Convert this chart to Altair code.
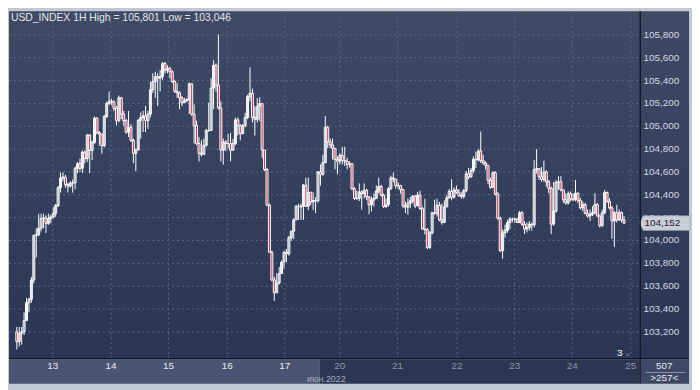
import altair as alt
import numpy as np
import pandas as pd

# ---------------- data ----------------
first_open = 103.200
closes = [
    103.115, 103.186, 103.200, 103.299, 103.455, 103.484, 103.654, 104.045, 104.051, 104.107,
    104.192, 104.198, 104.150, 104.192, 104.207, 104.235, 104.306, 104.462, 104.547, 104.555,
    104.490, 104.476, 104.504, 104.504, 104.632, 104.674, 104.632, 104.774, 104.717, 104.924,
    104.788, 104.859, 105.071, 104.944, 104.930, 104.830, 105.085, 105.199, 105.219, 105.213,
    105.156, 105.049, 105.249, 105.106, 105.049, 104.949, 104.991, 104.877, 104.763, 104.791,
    105.049, 105.077, 105.091, 105.049, 105.106, 105.320, 105.391, 105.434, 105.420, 105.434,
    105.549, 105.491, 105.506, 105.477, 105.391, 105.306, 105.291, 105.249, 105.206, 105.220,
    105.234, 105.371, 105.106, 105.006, 104.849, 104.763, 104.754, 104.834, 104.963, 104.963,
    105.334, 105.534, 105.360, 105.161, 104.791, 104.863, 104.848, 104.848, 104.790, 104.848,
    105.056, 105.005, 104.934, 105.005, 105.076, 105.260, 105.289, 105.076, 105.061, 105.175,
    105.198, 104.792, 104.621, 104.309, 103.897, 103.655, 103.542, 103.627, 103.710, 103.811,
    103.897, 103.883, 104.025, 104.082, 104.180, 104.300, 104.295, 104.300, 104.485, 104.300,
    104.422, 104.337, 104.350, 104.348, 104.600, 104.580, 104.680, 104.990, 104.864, 104.836,
    104.807, 104.708, 104.694, 104.745, 104.700, 104.694, 104.666, 104.672, 104.453, 104.368,
    104.368, 104.425, 104.411, 104.440, 104.382, 104.312, 104.354, 104.368, 104.433, 104.473,
    104.397, 104.297, 104.312, 104.453, 104.547, 104.538, 104.480, 104.480, 104.445, 104.303,
    104.292, 104.326, 104.348, 104.388, 104.303, 104.397, 104.280, 104.100, 104.095, 103.939,
    104.067, 104.243, 104.238, 104.309, 104.180, 104.158, 104.294, 104.374, 104.430, 104.380,
    104.442, 104.422, 104.394, 104.386, 104.436, 104.584, 104.556, 104.612, 104.712, 104.706,
    104.783, 104.698, 104.678, 104.658, 104.527, 104.465, 104.593, 104.408, 104.195, 103.911,
    104.067, 104.090, 104.158, 104.186, 104.186, 104.186, 104.158, 104.243, 104.143, 104.100,
    104.114, 104.143, 104.136, 104.620, 104.629, 104.557, 104.534, 104.600, 104.514, 104.457,
    104.143, 104.257, 104.506, 104.514, 104.443, 104.357, 104.329, 104.409, 104.363, 104.357,
    104.414, 104.351, 104.286, 104.314, 104.237, 104.214, 104.229, 104.243, 104.314, 104.214,
    104.129, 104.243, 104.420, 104.343, 104.286, 104.171, 104.243, 104.180, 104.243, 104.180,
    104.152,
]
highs = [
    103.243, 103.243, 103.243, 103.370, 103.498, 103.498, 103.682, 104.051, 104.107, 104.235,
    104.235, 104.235, 104.221, 104.235, 104.226, 104.292, 104.320, 104.476, 104.595, 104.595,
    104.575, 104.504, 104.518, 104.533, 104.646, 104.688, 104.717, 104.788, 104.788, 104.930,
    104.930, 104.873, 105.085, 105.077, 104.958, 104.935, 105.100, 105.213, 105.304, 105.241,
    105.227, 105.177, 105.269, 105.257, 105.134, 105.063, 105.134, 105.020, 104.891, 104.806,
    105.063, 105.120, 105.134, 105.177, 105.134, 105.391, 105.463, 105.477, 105.463, 105.491,
    105.563, 105.563, 105.534, 105.520, 105.491, 105.406, 105.377, 105.306, 105.263, 105.249,
    105.249, 105.383, 105.377, 105.191, 105.049, 104.906, 104.877, 104.891, 104.977, 105.206,
    105.420, 105.577, 105.550, 105.801, 105.218, 104.891, 104.877, 104.934, 104.941, 104.891,
    105.076, 105.076, 105.019, 105.019, 105.118, 105.275, 105.516, 105.330, 105.175, 105.246,
    105.254, 105.198, 104.792, 104.635, 104.323, 103.911, 103.683, 103.712, 103.768, 103.825,
    103.911, 103.925, 104.040, 104.082, 104.194, 104.309, 104.323, 104.323, 104.494, 104.550,
    104.550, 104.422, 104.422, 104.380, 104.607, 104.666, 104.750, 105.090, 105.005, 104.892,
    104.892, 104.807, 104.737, 104.765, 104.820, 104.820, 104.723, 104.694, 104.672, 104.467,
    104.433, 104.500, 104.439, 104.500, 104.453, 104.382, 104.382, 104.411, 104.481, 104.550,
    104.487, 104.411, 104.368, 104.467, 104.567, 104.595, 104.538, 104.510, 104.487, 104.453,
    104.340, 104.368, 104.382, 104.397, 104.397, 104.425, 104.436, 104.294, 104.365, 104.110,
    104.081, 104.252, 104.357, 104.365, 104.337, 104.323, 104.351, 104.394, 104.450, 104.536,
    104.465, 104.479, 104.450, 104.422, 104.450, 104.607, 104.635, 104.635, 104.735, 104.777,
    104.800, 104.953, 104.749, 104.692, 104.635, 104.550, 104.607, 104.607, 104.422, 104.209,
    104.095, 104.138, 104.181, 104.203, 104.200, 104.200, 104.200, 104.260, 104.257, 104.171,
    104.157, 104.171, 104.157, 104.706, 104.800, 104.629, 104.643, 104.700, 104.614, 104.529,
    104.471, 104.514, 104.529, 104.563, 104.563, 104.443, 104.414, 104.429, 104.429, 104.414,
    104.529, 104.420, 104.371, 104.343, 104.329, 104.271, 104.271, 104.300, 104.414, 104.329,
    104.229, 104.271, 104.443, 104.429, 104.371, 104.300, 104.257, 104.314, 104.271, 104.257,
    104.214,
]
lows = [
    103.046, 103.072, 103.087, 103.172, 103.299, 103.370, 103.455, 103.625, 103.852, 104.036,
    104.079, 104.107, 104.065, 104.136, 104.150, 104.192, 104.207, 104.292, 104.419, 104.518,
    104.462, 104.419, 104.462, 104.419, 104.448, 104.589, 104.603, 104.589, 104.674, 104.688,
    104.589, 104.703, 104.844, 104.930, 104.830, 104.759, 104.816, 105.071, 105.185, 105.185,
    105.134, 105.006, 105.034, 105.063, 105.006, 104.934, 104.906, 104.863, 104.677, 104.606,
    104.834, 104.891, 104.949, 104.949, 104.977, 105.077, 105.291, 105.249, 105.177, 105.306,
    105.406, 105.463, 105.463, 105.420, 105.377, 105.291, 105.249, 105.149, 105.177, 105.206,
    105.220, 105.106, 105.091, 104.849, 104.834, 104.691, 104.734, 104.749, 104.820, 104.949,
    104.963, 105.149, 105.303, 105.147, 104.692, 104.664, 104.781, 104.806, 104.692, 104.790,
    104.834, 104.919, 104.877, 104.934, 104.991, 105.062, 105.218, 105.033, 104.919, 105.033,
    105.047, 104.720, 104.607, 104.309, 103.897, 103.641, 103.470, 103.542, 103.613, 103.754,
    103.754, 103.811, 103.868, 103.997, 104.011, 104.180, 104.180, 104.180, 104.180, 104.295,
    104.266, 104.309, 104.266, 104.240, 104.330, 104.480, 104.566, 104.680, 104.807, 104.807,
    104.708, 104.623, 104.580, 104.666, 104.666, 104.652, 104.623, 104.637, 104.439, 104.354,
    104.354, 104.345, 104.270, 104.368, 104.354, 104.230, 104.255, 104.297, 104.368, 104.411,
    104.382, 104.283, 104.283, 104.297, 104.444, 104.510, 104.453, 104.453, 104.411, 104.283,
    104.240, 104.226, 104.283, 104.326, 104.283, 104.326, 104.266, 104.095, 104.053, 103.925,
    103.925, 104.053, 104.224, 104.210, 104.167, 104.138, 104.152, 104.294, 104.365, 104.351,
    104.365, 104.408, 104.380, 104.365, 104.365, 104.422, 104.536, 104.550, 104.593, 104.635,
    104.690, 104.678, 104.664, 104.621, 104.493, 104.450, 104.465, 104.394, 104.181, 103.897,
    103.840, 104.025, 104.067, 104.095, 104.158, 104.155, 104.152, 104.152, 104.129, 104.057,
    104.071, 104.086, 104.086, 104.114, 104.586, 104.529, 104.514, 104.514, 104.471, 104.414,
    104.057, 104.129, 104.243, 104.443, 104.429, 104.329, 104.314, 104.314, 104.343, 104.343,
    104.343, 104.329, 104.271, 104.257, 104.229, 104.200, 104.171, 104.214, 104.229, 104.207,
    104.114, 104.122, 104.229, 104.329, 104.271, 104.014, 103.943, 104.157, 104.171, 104.157,
    104.143,
]
y_ticks = [103.2, 103.4, 103.6, 103.8, 104.0, 104.2, 104.4, 104.6, 104.8, 105.0, 105.2, 105.4, 105.6, 105.8]
day_labels = ["13", "14", "15", "16", "17", "20", "21", "22", "23", "24", "25"]
day_pos = [14.80, 38.81, 62.42, 86.63, 110.32, 132.94, 156.75, 181.23, 204.96, 228.69, 252.78]
title_text = "USD_INDEX 1H High = 105,801 Low = 103,046"
month_label = "июн.2022"
bars_total = "507"
bars_visible = ">257<"
shift_label = "3"

# ---------------- layout / style ----------------
FONT = "Liberation Sans"
W, H = 638, 351
XS = alt.Scale(domain=[-1.19, 254.37], nice=False, zero=False)
YS = alt.Scale(domain=[102.970, 106.007], nice=False, zero=False)


def grad(c1, c2):
    return {"gradient": "linear", "x1": 0, "y1": 0, "x2": 0, "y2": 1,
            "stops": [{"offset": 0, "color": c1}, {"offset": 1, "color": c2}]}


one = pd.DataFrame({"a": [0]})


def rect(x1, x2, y1, y2, color):
    return alt.Chart(one).mark_rect(color=color).encode(
        x=alt.value(x1), x2=alt.value(x2), y=alt.value(y1), y2=alt.value(y2))


def label(x, y, text, color, size=10, align="left"):
    return alt.Chart(one).mark_text(
        text=text, align=align, baseline="middle", font=FONT, fontSize=size, color=color
    ).encode(x=alt.value(x), y=alt.value(y))


opens = [first_open] + closes[:-1]
df = pd.DataFrame({"i": range(len(closes)), "o": opens, "c": closes, "h": highs, "l": lows})
df["top"] = df[["h", "o", "c"]].max(axis=1)
df["bot"] = df[["l", "o", "c"]].min(axis=1)
df["dir"] = np.where(df["c"] < df["o"], "down", "up")

plot_bg = rect(0, W, 0, H, grad("#3f4b65", "#293654"))
right_bg = rect(W, 688, 0, H, grad("#3f4b65", "#293654"))
bottom_left = rect(0, 314, 352, 377, "#4a5571")
bottom_right = rect(314, W, 352, 377, "#2b3651")

hgrid = alt.Chart(pd.DataFrame({"v": y_ticks})).mark_rule(
    color="#5d6884", strokeDash=[2, 3], strokeWidth=1
).encode(y=alt.Y("v:Q", scale=YS, axis=None), x=alt.value(0), x2=alt.value(W))

vgrid = alt.Chart(pd.DataFrame({"t": day_pos})).mark_rule(
    color="#5d6884", strokeDash=[2, 3], strokeWidth=1
).encode(x=alt.X("t:Q", scale=XS, axis=None), y=alt.value(0), y2=alt.value(H))

wicks = alt.Chart(df).mark_rule(color="white", strokeWidth=1).encode(
    x=alt.X("i:Q", scale=XS, axis=None),
    y=alt.Y("bot:Q", scale=YS, axis=None),
    y2="top:Q",
)

bodies = alt.Chart(df).mark_bar(size=2, stroke="white", strokeWidth=1).encode(
    x=alt.X("i:Q", scale=XS, axis=None),
    y=alt.Y("o:Q", scale=YS, axis=None),
    y2="c:Q",
    fill=alt.Fill("dir:N", scale=alt.Scale(domain=["up", "down"], range=["rgba(0,0,0,0)", "#c42a4c"]), legend=None),
)

sep_v = alt.Chart(one).mark_rule(color="#0e1522", strokeWidth=1.5).encode(
    x=alt.value(638.5), y=alt.value(0), y2=alt.value(377))
sep_h = alt.Chart(one).mark_rule(color="#0e1522", strokeWidth=1.5).encode(
    x=alt.value(0), x2=alt.value(688), y=alt.value(351.5))

ylabels = alt.Chart(pd.DataFrame({"v": y_ticks})).transform_calculate(
    lab="replace(format(datum.v, '.3f'), '.', ',')"
).mark_text(align="left", baseline="middle", font=FONT, fontSize=10, color="#d3d8e1").encode(
    y=alt.Y("v:Q", scale=YS, axis=None), x=alt.value(642), text="lab:N")

last = pd.DataFrame({"p": [closes[-1]]})
price_box = alt.Chart(last).mark_point(
    shape="M-1,0L-0.86,-0.29L1,-0.29L1,0.29L-0.86,0.29Z", size=2601, filled=True,
    fill="#c9ced7", stroke="#8f98aa", strokeWidth=0.6, opacity=1,
).encode(y=alt.Y("p:Q", scale=YS, axis=None), x=alt.value(663.5))
price_text = alt.Chart(last).transform_calculate(
    lab="replace(format(datum.p, '.3f'), '.', ',')"
).mark_text(align="left", baseline="middle", font=FONT, fontSize=10, color="#1b2030").encode(
    y=alt.Y("p:Q", scale=YS, axis=None), x=alt.value(643), text="lab:N")

xlabels = alt.Chart(pd.DataFrame({"t": day_pos, "lab": day_labels})).mark_text(
    baseline="middle", align="center", font=FONT, fontSize=10
).encode(
    x=alt.X("t:Q", scale=XS, axis=None), y=alt.value(359), text="lab:N",
    color=alt.condition("datum.t > 120", alt.value("#8d96aa"), alt.value("#e8ebf0")),
)

corner = rect(639, 688, 352, 377, "#3e4965")
corner_line = alt.Chart(one).mark_rule(color="#8a93a6", strokeWidth=1).encode(
    x=alt.value(644), x2=alt.value(684), y=alt.value(365.5))

chart = alt.layer(
    plot_bg, right_bg, bottom_left, bottom_right,
    hgrid, vgrid, wicks, bodies,
    ylabels, price_box, price_text,
    xlabels, corner, corner_line,
    label(663, 359, bars_total, "#e8ebf0", 10, "center"),
    label(663, 371, bars_visible, "#e8ebf0", 10, "center"),
    label(321, 372, month_label, "#a7afc0", 9, "center"),
    label(2, 7, title_text, "#e4e7ec", 10.5, "left"),
    label(618, 346, shift_label, "#ffffff", 10, "center"),
    label(626, 347, "▲", "#5d6882", 6, "center"),
    sep_v, sep_h,
).properties(
    width=W, height=H,
    padding={"left": 1, "top": 1, "right": 53, "bottom": 30},
    autosize=alt.AutoSizeParams(type="none"),
    background="#c3c9d4",
).configure_view(stroke=None)

chart.save("out.html", embed_options={"renderer": "svg", "actions": False})
